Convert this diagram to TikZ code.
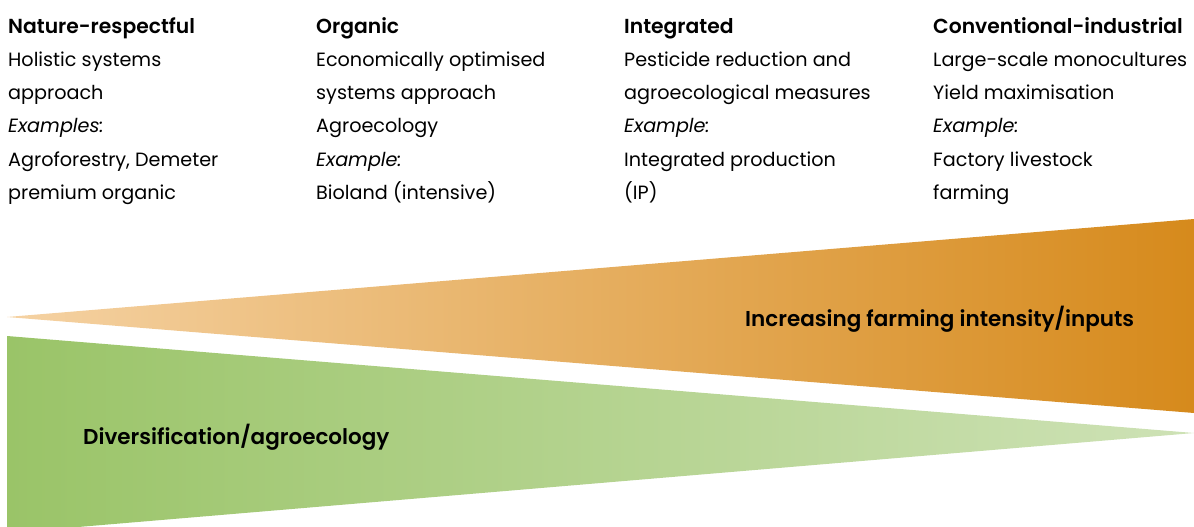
\documentclass[tikz,border=0pt]{standalone}
\usepackage{fontspec}
\setmainfont{Poppins}[BoldFont={Poppins SemiBold}]
\newcommand{\coltitle}[1]{{\fontsize{20.3}{33.3}\selectfont\bfseries #1}}
\begin{document}
\begin{tikzpicture}[x=1pt,y=-1pt,
  coltext/.style={anchor=base west,inner sep=0pt,align=left,
    font=\fontsize{19.2}{33.3}\selectfont,text=black},
  bandlabel/.style={anchor=west,inner sep=0pt,font=\fontsize{21.5}{24}\selectfont\bfseries,text=black}]
\definecolor{orangeL}{RGB}{245,210,163}
\definecolor{orangeR}{RGB}{214,138,28}
\definecolor{greenL}{RGB}{154,196,104}
\definecolor{greenR}{RGB}{206,226,182}
\useasboundingbox (0,0) rectangle (1194,527);
\clip (0,0) rectangle (1194,527);

% wedge of farming intensity, widening to the right
\coordinate (oTip) at (7,317);
\coordinate (oTop) at (1194,219);
\coordinate (oBot) at (1194,413);
\shade[left color=orangeL,right color=orangeR] (oTip) -- (oTop) -- (oBot) -- cycle;

% wedge of diversification, narrowing to the right
\coordinate (gTop) at (7,336);
\coordinate (gBot) at (7,533);
\coordinate (gTip) at (1194,433);
\shade[left color=greenL,right color=greenR] (gTop) -- (gTip) -- (gBot) -- cycle;

\node[bandlabel] (intens) at (745,319) {Increasing farming intensity/inputs};
\node[bandlabel] (divers) at (83,437) {Diversification/agroecology};

% the four farming systems (node placed at the baseline of the last line)
\node[coltext] (nature) at (8,199.5) {\coltitle{Nature-respectful}\\Holistic systems\\approach\\\textit{Examples:}\\Agroforestry, Demeter\\premium organic};
\node[coltext] (organic) at (316,199.5) {\coltitle{Organic}\\Economically optimised\\systems approach\\Agroecology\\\textit{Example:}\\Bioland (intensive)};
\node[coltext] (integr) at (624,199.5) {\coltitle{Integrated}\\Pesticide reduction and\\agroecological measures\\\textit{Example:}\\Integrated production\\(IP)};
\node[coltext] (conv) at (933,199.5) {\coltitle{Conventional-industrial}\\Large-scale monocultures\\Yield maximisation\\\textit{Example:}\\Factory livestock\\farming};
\end{tikzpicture}
\end{document}
